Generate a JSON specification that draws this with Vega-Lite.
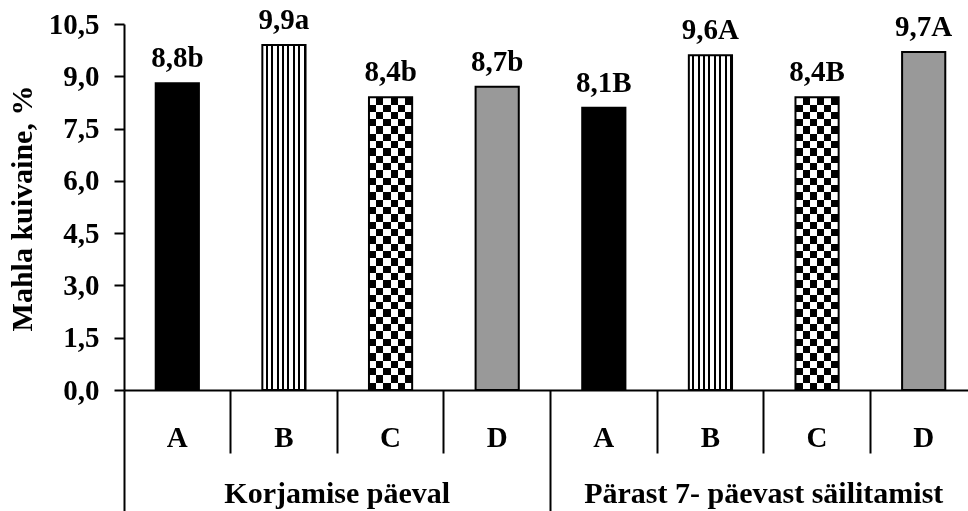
{
  "$schema": "https://vega.github.io/schema/vega-lite/v6.json",
  "autosize": {"type": "none"},
  "padding": {"left": 124, "top": 24, "right": 0, "bottom": 121},
  "width": 844,
  "height": 366,
  "background": "white",
  "config": {
    "view": {"stroke": null},
    "axis": {"grid": false, "labelFont": "Liberation Serif", "labelFontWeight": "bold", "labelColor": "black", "titleFont": "Liberation Serif", "titleFontWeight": "bold", "titleColor": "black", "labelLimit": 0}
  },
  "data": {
    "values": [
      {"key": "1A", "period": "Korjamise päeval", "variant": "A", "value": 8.8, "label": "8,8b"},
      {"key": "1B", "period": "Korjamise päeval", "variant": "B", "value": 9.9, "label": "9,9a"},
      {"key": "1C", "period": "Korjamise päeval", "variant": "C", "value": 8.4, "label": "8,4b"},
      {"key": "1D", "period": "Korjamise päeval", "variant": "D", "value": 8.7, "label": "8,7b"},
      {"key": "2A", "period": "Pärast 7- päevast säilitamist", "variant": "A", "value": 8.1, "label": "8,1B"},
      {"key": "2B", "period": "Pärast 7- päevast säilitamist", "variant": "B", "value": 9.6, "label": "9,6A"},
      {"key": "2C", "period": "Pärast 7- päevast säilitamist", "variant": "C", "value": 8.4, "label": "8,4B"},
      {"key": "2D", "period": "Pärast 7- päevast säilitamist", "variant": "D", "value": 9.7, "label": "9,7A"}
    ]
  },
  "encoding": {
    "y": {
      "field": "value", "type": "quantitative",
      "scale": {"domain": [0, 10.5], "nice": false, "zero": true},
      "axis": {
        "orient": "left",
        "values": [0, 1.5, 3, 4.5, 6, 7.5, 9, 10.5],
        "labelExpr": "replace(format(datum.value, '.1f'), '.', ',')",
        "labelFontSize": 29, "labelPadding": 15,
        "domainColor": "black", "domainWidth": 2,
        "tickColor": "black", "tickWidth": 2, "tickSize": 10,
        "title": "Mahla kuivaine, %", "titleFontSize": 30,
        "titleX": -102, "titleY": 184, "titleBaseline": "middle", "titleAlign": "center", "titleAngle": -90
      }
    }
  },
  "resolve": {"axis": {"x": "independent"}},
  "layer": [
    {
      "mark": {"type": "bar", "width": {"band": 0.405}},
      "encoding": {
        "x": {
          "field": "key", "type": "nominal",
          "scale": {"domain": ["1A","1B","1C","1D","2A","2B","2C","2D"], "range": [0, 853], "paddingInner": 0, "paddingOuter": 0},
          "axis": {"orient": "bottom", "title": null, "ticks": false, "domain": true, "domainColor": "black", "domainWidth": 2,
            "labelExpr": "substring(datum.value, 1)", "labelFontSize": 29, "labelPadding": 56, "labelBaseline": "alphabetic", "labelAngle": 0, "labelOverlap": false}
        },
        "fill": {
          "condition": [
            {"test": "datum.variant == 'A'", "value": "#000000"},
            {"test": "datum.variant == 'B'", "value": {"gradient": "linear", "x1": 0, "y1": 0, "x2": 1, "y2": 0, "stops": [
              {"offset": 0, "color": "#ffffff"}, {"offset": 0.08, "color": "#ffffff"}, {"offset": 0.08, "color": "#000000"}, {"offset": 0.125, "color": "#000000"},
              {"offset": 0.125, "color": "#ffffff"}, {"offset": 0.205, "color": "#ffffff"}, {"offset": 0.205, "color": "#000000"}, {"offset": 0.25, "color": "#000000"},
              {"offset": 0.25, "color": "#ffffff"}, {"offset": 0.33, "color": "#ffffff"}, {"offset": 0.33, "color": "#000000"}, {"offset": 0.375, "color": "#000000"},
              {"offset": 0.375, "color": "#ffffff"}, {"offset": 0.455, "color": "#ffffff"}, {"offset": 0.455, "color": "#000000"}, {"offset": 0.5, "color": "#000000"},
              {"offset": 0.5, "color": "#ffffff"}, {"offset": 0.58, "color": "#ffffff"}, {"offset": 0.58, "color": "#000000"}, {"offset": 0.625, "color": "#000000"},
              {"offset": 0.625, "color": "#ffffff"}, {"offset": 0.705, "color": "#ffffff"}, {"offset": 0.705, "color": "#000000"}, {"offset": 0.75, "color": "#000000"},
              {"offset": 0.75, "color": "#ffffff"}, {"offset": 0.83, "color": "#ffffff"}, {"offset": 0.83, "color": "#000000"}, {"offset": 0.875, "color": "#000000"},
              {"offset": 0.875, "color": "#ffffff"}, {"offset": 0.955, "color": "#ffffff"}, {"offset": 0.955, "color": "#000000"}, {"offset": 1, "color": "#000000"}
            ]}},
            {"test": "datum.variant == 'C'", "value": {"gradient": "linear", "x1": 0, "y1": 0, "x2": 1, "y2": 0, "stops": [
              {"offset": 0, "color": "#000000"}, {"offset": 0.1667, "color": "#000000"}, {"offset": 0.1667, "color": "#ffffff"}, {"offset": 0.3333, "color": "#ffffff"},
              {"offset": 0.3333, "color": "#000000"}, {"offset": 0.5, "color": "#000000"}, {"offset": 0.5, "color": "#ffffff"}, {"offset": 0.6667, "color": "#ffffff"},
              {"offset": 0.6667, "color": "#000000"}, {"offset": 0.8333, "color": "#000000"}, {"offset": 0.8333, "color": "#ffffff"}, {"offset": 1, "color": "#ffffff"}
            ]}}
          ],
          "value": "#999999"
        }
      }
    },
    {
      "transform": [{"filter": "datum.variant == 'C'"}],
      "mark": {"type": "bar", "width": {"band": 0.405}, "blend": "difference", "fill": {"gradient": "linear", "x1": 0, "y1": 0, "x2": 0, "y2": 1, "stops": [
        {"offset": 0, "color": "#ffffff"}, {"offset": 0.025, "color": "#ffffff"}, {"offset": 0.025, "color": "#000000"}, {"offset": 0.05, "color": "#000000"},
        {"offset": 0.05, "color": "#ffffff"}, {"offset": 0.075, "color": "#ffffff"}, {"offset": 0.075, "color": "#000000"}, {"offset": 0.1, "color": "#000000"},
        {"offset": 0.1, "color": "#ffffff"}, {"offset": 0.125, "color": "#ffffff"}, {"offset": 0.125, "color": "#000000"}, {"offset": 0.15, "color": "#000000"},
        {"offset": 0.15, "color": "#ffffff"}, {"offset": 0.175, "color": "#ffffff"}, {"offset": 0.175, "color": "#000000"}, {"offset": 0.2, "color": "#000000"},
        {"offset": 0.2, "color": "#ffffff"}, {"offset": 0.225, "color": "#ffffff"}, {"offset": 0.225, "color": "#000000"}, {"offset": 0.25, "color": "#000000"},
        {"offset": 0.25, "color": "#ffffff"}, {"offset": 0.275, "color": "#ffffff"}, {"offset": 0.275, "color": "#000000"}, {"offset": 0.3, "color": "#000000"},
        {"offset": 0.3, "color": "#ffffff"}, {"offset": 0.325, "color": "#ffffff"}, {"offset": 0.325, "color": "#000000"}, {"offset": 0.35, "color": "#000000"},
        {"offset": 0.35, "color": "#ffffff"}, {"offset": 0.375, "color": "#ffffff"}, {"offset": 0.375, "color": "#000000"}, {"offset": 0.4, "color": "#000000"},
        {"offset": 0.4, "color": "#ffffff"}, {"offset": 0.425, "color": "#ffffff"}, {"offset": 0.425, "color": "#000000"}, {"offset": 0.45, "color": "#000000"},
        {"offset": 0.45, "color": "#ffffff"}, {"offset": 0.475, "color": "#ffffff"}, {"offset": 0.475, "color": "#000000"}, {"offset": 0.5, "color": "#000000"},
        {"offset": 0.5, "color": "#ffffff"}, {"offset": 0.525, "color": "#ffffff"}, {"offset": 0.525, "color": "#000000"}, {"offset": 0.55, "color": "#000000"},
        {"offset": 0.55, "color": "#ffffff"}, {"offset": 0.575, "color": "#ffffff"}, {"offset": 0.575, "color": "#000000"}, {"offset": 0.6, "color": "#000000"},
        {"offset": 0.6, "color": "#ffffff"}, {"offset": 0.625, "color": "#ffffff"}, {"offset": 0.625, "color": "#000000"}, {"offset": 0.65, "color": "#000000"},
        {"offset": 0.65, "color": "#ffffff"}, {"offset": 0.675, "color": "#ffffff"}, {"offset": 0.675, "color": "#000000"}, {"offset": 0.7, "color": "#000000"},
        {"offset": 0.7, "color": "#ffffff"}, {"offset": 0.725, "color": "#ffffff"}, {"offset": 0.725, "color": "#000000"}, {"offset": 0.75, "color": "#000000"},
        {"offset": 0.75, "color": "#ffffff"}, {"offset": 0.775, "color": "#ffffff"}, {"offset": 0.775, "color": "#000000"}, {"offset": 0.8, "color": "#000000"},
        {"offset": 0.8, "color": "#ffffff"}, {"offset": 0.825, "color": "#ffffff"}, {"offset": 0.825, "color": "#000000"}, {"offset": 0.85, "color": "#000000"},
        {"offset": 0.85, "color": "#ffffff"}, {"offset": 0.875, "color": "#ffffff"}, {"offset": 0.875, "color": "#000000"}, {"offset": 0.9, "color": "#000000"},
        {"offset": 0.9, "color": "#ffffff"}, {"offset": 0.925, "color": "#ffffff"}, {"offset": 0.925, "color": "#000000"}, {"offset": 0.95, "color": "#000000"},
        {"offset": 0.95, "color": "#ffffff"}, {"offset": 0.975, "color": "#ffffff"}, {"offset": 0.975, "color": "#000000"}, {"offset": 1, "color": "#000000"}
      ]}},
      "encoding": {
        "x": {
          "field": "key", "type": "nominal",
          "scale": {"domain": ["1A","1B","1C","1D","2A","2B","2C","2D"], "range": [0, 853], "paddingInner": 0, "paddingOuter": 0},
          "axis": {"orient": "bottom", "title": null, "values": ["1B","1C","1D","2B","2C","2D"], "bandPosition": 0,
            "ticks": true, "tickSize": 63, "tickWidth": 2, "tickColor": "black", "labels": false, "domain": false}
        }
      }
    },
    {
      "mark": {"type": "bar", "width": {"band": 0.405}, "fillOpacity": 0, "stroke": "black", "strokeWidth": 2},
      "encoding": {
        "x": {
          "field": "key", "type": "nominal",
          "scale": {"domain": ["1A","1B","1C","1D","2A","2B","2C","2D"], "range": [0, 853], "paddingInner": 0, "paddingOuter": 0},
          "axis": {"orient": "bottom", "title": null, "values": ["1A","2A"], "bandPosition": 0,
            "ticks": true, "tickSize": 121, "tickWidth": 2, "tickColor": "black", "labels": false, "domain": false}
        }
      }
    },
    {
      "mark": {"type": "text", "font": "Liberation Serif", "fontWeight": "bold", "fontSize": 29, "baseline": "alphabetic", "align": "center", "dy": -16, "color": "black"},
      "encoding": {
        "x": {
          "field": "key", "type": "nominal",
          "scale": {"domain": ["1A","1B","1C","1D","2A","2B","2C","2D"], "range": [0, 853], "paddingInner": 0, "paddingOuter": 0},
          "axis": {"orient": "bottom", "title": null, "values": ["1C","2C"], "bandPosition": 0, "ticks": false, "domain": false,
            "labelExpr": "datum.value == '1C' ? 'Korjamise päeval' : 'Pärast 7- päevast säilitamist'",
            "labelFontSize": 30, "labelPadding": 112, "labelBaseline": "alphabetic", "labelAngle": 0, "labelOverlap": false, "labelLimit": 0, "labelOffset": -53.3}
        },
        "text": {"field": "label", "type": "nominal"}
      }
    }
  ]
}
